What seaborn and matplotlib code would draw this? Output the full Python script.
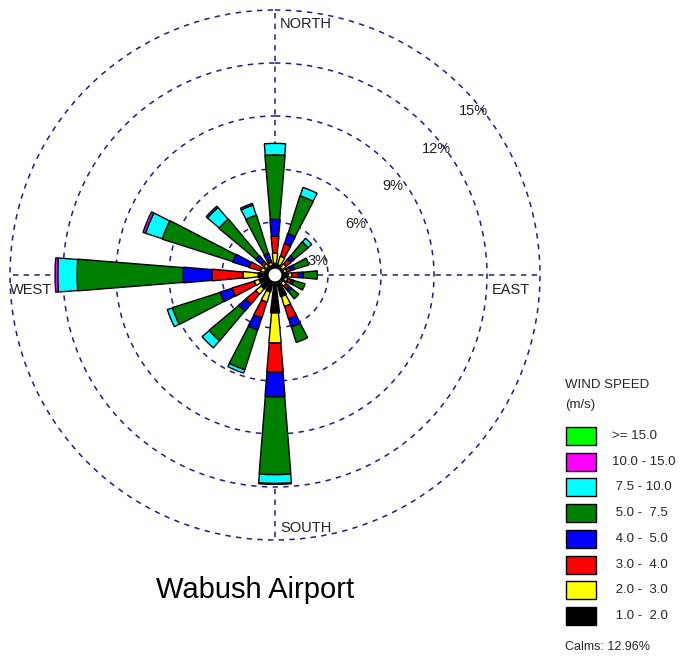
import numpy as np
import matplotlib
matplotlib.use("Agg")
import matplotlib.pyplot as plt
from matplotlib.patches import Rectangle, Circle
import seaborn as sns

# Wind direction sectors (compass degrees, clockwise from north)
directions = ["N", "NNE", "NE", "ENE", "E", "ESE", "SE", "SSE",
              "S", "SSW", "SW", "WSW", "W", "WNW", "NW", "NNW"]
dir_deg = [0, 22.5, 45, 67.5, 90, 112.5, 135, 157.5,
           180, 202.5, 225, 247.5, 270, 292.5, 315, 337.5]

# Frequency (%) of each speed class per direction
spd_1_2 = [0.66, 0.60, 0.50, 0.50, 0.75, 0.55, 0.55, 1.27, 2.15, 1.00, 1.00, 0.93, 0.96, 0.60, 0.60, 0.55]
spd_2_3 = [0.57, 0.50, 0.30, 0.20, 0.20, 0.20, 0.25, 0.59, 1.70, 0.60, 0.40, 0.29, 0.85, 0.25, 0.20, 0.20]
spd_3_4 = [0.97, 0.76, 0.33, 0.20, 0.35, 0.20, 0.20, 0.72, 1.65, 0.94, 0.73, 1.32, 1.76, 0.68, 0.20, 0.15]
spd_4_5 = [0.95, 0.59, 0.27, 0.25, 0.30, 0.15, 0.20, 0.50, 1.40, 0.72, 0.53, 0.71, 1.63, 0.97, 0.40, 0.38]
spd_5_75 = [3.65, 2.25, 1.03, 0.85, 0.80, 0.67, 0.53, 0.92, 4.40, 2.37, 2.21, 2.85, 6.00, 4.20, 2.73, 2.27]
spd_75_10 = [0.65, 0.50, 0.27, 0.00, 0.00, 0.00, 0.00, 0.00, 0.50, 0.20, 0.53, 0.30, 1.10, 1.00, 0.87, 0.60]
spd_10_15 = [0.00, 0.00, 0.00, 0.00, 0.00, 0.00, 0.00, 0.00, 0.05, 0.00, 0.00, 0.00, 0.15, 0.15, 0.10, 0.10]
spd_15_up = [0.0] * 16

calms_pct = 12.96
ring_levels = [3, 6, 9, 12, 15]
ring_labels = ["3%", "6%", "9%", "12%", "15%"]

speed_series = [spd_1_2, spd_2_3, spd_3_4, spd_4_5, spd_5_75, spd_75_10, spd_10_15, spd_15_up]
speed_labels = [" 1.0 -  2.0", " 2.0 -  3.0", " 3.0 -  4.0", " 4.0 -  5.0",
                " 5.0 -  7.5", " 7.5 - 10.0", "10.0 - 15.0", ">= 15.0"]
speed_colors = sns.color_palette(["#000000", "#ffff00", "#ff0000", "#0000ff",
                                  "#008000", "#00ffff", "#ff00ff", "#00ff00"])

sns.set_theme(style="white")
plt.rcParams["font.family"] = ["Liberation Sans", "DejaVu Sans"]

W, H = 681, 659
fig = plt.figure(figsize=(W / 100, H / 100), dpi=100)
fig.patch.set_facecolor("white")


def px(x, y):
    """Pixel position (from top-left) to figure fraction."""
    return x / W, 1 - y / H


cx, cy, R = 275, 275, 265
r_max = 15.0
px_per_pct = R / r_max
ax = fig.add_axes([(cx - R) / W, (H - cy - R) / H, 2 * R / W, 2 * R / H],
                  projection="polar")
ax.set_theta_zero_location("N")
ax.set_theta_direction(-1)
ax.set_ylim(0, r_max)
ax.set_xticks([])
ax.set_yticks([])
ax.grid(False)
ax.spines["polar"].set_visible(False)
ax.set_facecolor("none")

grid_color = "#1c1c8e"
dash = (0, (3.5, 3.5))
tt = np.linspace(0, 2 * np.pi, 400)
for lvl in ring_levels:
    ax.plot(tt, np.full_like(tt, lvl), color=grid_color, lw=1.1,
            linestyle=dash, zorder=1, clip_on=False)
for a in [0, 90, 180, 270]:
    ax.plot([np.deg2rad(a)] * 2, [0, r_max + 0.1], color=grid_color, lw=1.1,
            linestyle=dash, zorder=1, clip_on=False)

# Stacked speed classes per direction; petals flare slightly near the hub
theta = np.deg2rad(dir_deg)
bottom = np.zeros(len(directions))
for vals, col in zip(speed_series, speed_colors):
    vals = np.asarray(vals)
    mask = vals > 0
    if mask.any():
        mid_px = (bottom[mask] + vals[mask] / 2) * px_per_pct
        widths = np.deg2rad(8.5 + 100.0 / np.maximum(mid_px, 12.0))
        ax.bar(theta[mask], vals[mask], width=widths, bottom=bottom[mask],
               color=col, edgecolor="black", linewidth=1.0, zorder=3)
    bottom += vals

# Calm circle at the center
ax.add_patch(Circle((0.5, 0.5), 0.42 / r_max * 0.5, transform=ax.transAxes,
                    facecolor="white", edgecolor="black", lw=1.5, zorder=5))

# Ring percentage labels
ring_pos = [(318, 261), (356, 224), (393, 186), (436, 149), (473, 111)]
for lab, (x, y) in zip(ring_labels, ring_pos):
    fig.text(*px(x, y), lab, ha="center", va="center", fontsize=10.5,
             color="#202020")

# Compass labels
for lab, (x, y) in zip(["NORTH", "EAST", "SOUTH", "WEST"],
                       [(280, 24), (492, 290), (280, 528), (10, 290)]):
    fig.text(*px(x, y), lab, ha="left", va="center", fontsize=10.5,
             color="#202020", zorder=6)

# Station name
fig.text(*px(255, 590), "Wabush Airport", ha="center", va="center",
         fontsize=21, color="black")

# Speed legend
fig.text(*px(565, 385), "WIND SPEED", ha="left", va="center", fontsize=9.5)
fig.text(*px(565, 405), "(m/s)", ha="left", va="center", fontsize=9.5)
legend_order = list(range(len(speed_labels)))[::-1]
for i, k in enumerate(legend_order):
    yc = 436 + i * 25.7
    x0, y0 = px(566, yc + 9)
    x1, y1 = px(596, yc - 9)
    fig.add_artist(Rectangle((x0, y0), x1 - x0, y1 - y0,
                             transform=fig.transFigure,
                             facecolor=speed_colors[k], edgecolor="black",
                             lw=1.0))
    fig.text(*px(612, yc), speed_labels[k], ha="left", va="center",
             fontsize=9.5)
fig.text(*px(565, 647), f"Calms: {calms_pct:.2f}%", ha="left", va="center",
         fontsize=9)

fig.savefig("out.png", dpi=100, facecolor="white")
